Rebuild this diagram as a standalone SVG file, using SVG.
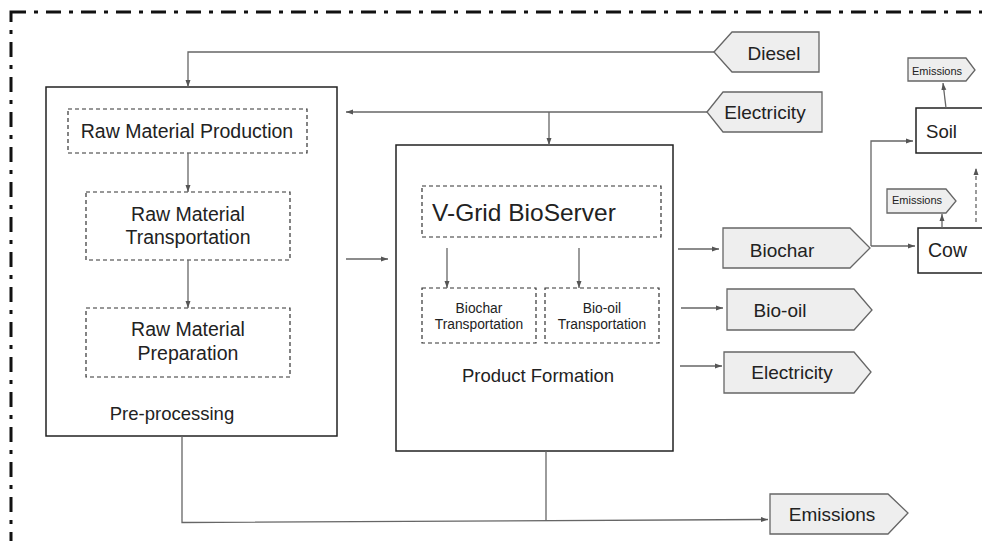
<svg xmlns="http://www.w3.org/2000/svg" width="982" height="541" viewBox="0 0 982 541">
<defs>
<marker id="ah" markerUnits="userSpaceOnUse" markerWidth="8" markerHeight="6" refX="7" refY="3" orient="auto">
<path d="M0,0.5 L7,3 L0,5.5 z" fill="#555"/>
</marker>
<style>
text{font-family:"Liberation Sans",Arial,sans-serif;fill:#222;}
.box{fill:#fff;stroke:#222;stroke-width:1.5;}
.dbox{fill:none;stroke:#333;stroke-width:1.2;stroke-dasharray:4 3;}
.tag{fill:#eeeeee;stroke:#666;stroke-width:1.3;}
.con{fill:none;stroke:#666;stroke-width:1.3;marker-end:url(#ah);}
.line{fill:none;stroke:#666;stroke-width:1.3;}
.c{text-anchor:middle;}
</style>
</defs>
<rect width="982" height="541" fill="#fff"/>
<rect x="11" y="12" width="1010" height="570" fill="none" stroke="#111" stroke-width="3" stroke-dasharray="15 8 4 8"/>

<g id="preprocessing">
<rect class="box" x="46" y="87" width="291" height="349"/>
<text x="172" y="420" font-size="18.5" class="c">Pre-processing</text>
</g>
<g id="raw-material-production">
<rect class="dbox" x="68" y="109" width="239" height="44"/>
<text x="187" y="138" font-size="19.5" class="c">Raw Material Production</text>
</g>
<g id="raw-material-transportation">
<rect class="dbox" x="86" y="192" width="204" height="68"/>
<text x="188" y="221" font-size="19.5" class="c">Raw Material</text>
<text x="188" y="244" font-size="19.5" class="c">Transportation</text>
</g>
<g id="raw-material-preparation">
<rect class="dbox" x="86" y="308" width="204" height="69"/>
<text x="188" y="336" font-size="19.5" class="c">Raw Material</text>
<text x="188" y="360" font-size="19.5" class="c">Preparation</text>
</g>

<g id="product-formation">
<rect class="box" x="396" y="145" width="277" height="306"/>
<text x="538" y="382" font-size="18.5" class="c">Product Formation</text>
</g>
<g id="vgrid-bioserver">
<rect class="dbox" x="422" y="186" width="239" height="51"/>
<text x="432" y="221" font-size="24.5">V-Grid BioServer</text>
</g>
<g id="biochar-transportation">
<rect class="dbox" x="422" y="288" width="114" height="55"/>
<text x="479" y="313" font-size="13.8" class="c">Biochar</text>
<text x="479" y="329" font-size="13.8" class="c">Transportation</text>
</g>
<g id="biooil-transportation">
<rect class="dbox" x="545" y="288" width="114" height="55"/>
<text x="602" y="313" font-size="13.8" class="c">Bio-oil</text>
<text x="602" y="329" font-size="13.8" class="c">Transportation</text>
</g>

<g id="diesel-in">
<polygon class="tag" points="714,52 732,32 819,32 819,72 732,72"/>
<text x="774" y="60" font-size="19" class="c">Diesel</text>
</g>
<g id="electricity-in">
<polygon class="tag" points="707,112 723,92 822,92 822,132 723,132"/>
<text x="765" y="119" font-size="19" class="c">Electricity</text>
</g>

<g id="biochar-out">
<polygon class="tag" points="723,228 850,228 870,248 850,268 723,268"/>
<text x="782" y="257" font-size="19" class="c">Biochar</text>
</g>
<g id="biooil-out">
<polygon class="tag" points="727,289 854,289 872,310 854,330 727,330"/>
<text x="780" y="317" font-size="19" class="c">Bio-oil</text>
</g>
<g id="electricity-out">
<polygon class="tag" points="724,352 854,352 871,372 854,393 724,393"/>
<text x="792" y="379" font-size="19" class="c">Electricity</text>
</g>
<g id="emissions-out">
<polygon class="tag" points="770,494 888,494 908,513 888,534 770,534"/>
<text x="832" y="521" font-size="19" class="c">Emissions</text>
</g>

<g id="soil">
<rect class="box" x="916" y="108" width="80" height="45"/>
<text x="926" y="138" font-size="18.6">Soil</text>
</g>
<g id="cow">
<rect class="box" x="918" y="228" width="80" height="45"/>
<text x="928" y="257" font-size="19.5">Cow</text>
</g>
<g id="soil-emissions">
<polygon class="tag" points="908,58 966,58 975,70 966,81 908,81"/>
<text x="937" y="75" font-size="11" class="c">Emissions</text>
</g>
<g id="cow-emissions">
<polygon class="tag" points="887,189 946,189 956,201 946,213 887,213"/>
<text x="917" y="204" font-size="11" class="c">Emissions</text>
</g>

<g id="connectors">
<path class="con" d="M714,52 H188 V87"/>
<path class="con" d="M707,112 H346"/>
<path class="con" d="M549,112 V145"/>
<path class="con" d="M188,153 V192"/>
<path class="con" d="M188,260 V308"/>
<path class="con" d="M346,259 H388"/>
<path class="con" d="M447,248 V288"/>
<path class="con" d="M579,248 V288"/>
<path class="con" d="M678,249 H719"/>
<path class="con" d="M681,308 H723"/>
<path class="con" d="M680,366 H722"/>
<path class="con" d="M871,246 V141 H913"/>
<path class="con" d="M871,246 H915"/>
<path class="con" d="M942,228 V214"/>
<path class="con" d="M946,108 L943,83"/>
<path class="con" d="M976,222 V168" stroke-dasharray="4 3"/>
<path class="line" d="M546,451 V521"/>
<path class="con" d="M182,436 V522.5 L768,519.5"/>
</g>
</svg>
